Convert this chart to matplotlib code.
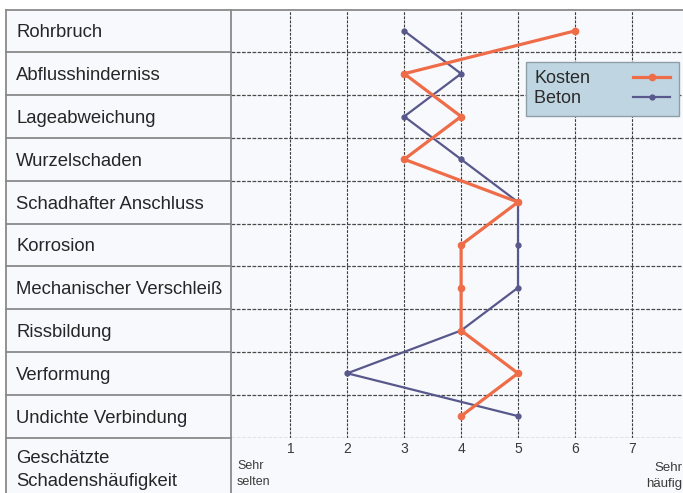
import matplotlib
matplotlib.use("Agg")
import matplotlib.pyplot as plt
from matplotlib.transforms import Affine2D
from matplotlib.lines import Line2D
from matplotlib.patches import Rectangle

plt.rcParams['font.family'] = ['Liberation Sans', 'DejaVu Sans']

# Damage types (rows, top to bottom)
categories = [
    "Rohrbruch",
    "Abflusshinderniss",
    "Lageabweichung",
    "Wurzelschaden",
    "Schadhafter Anschluss",
    "Korrosion",
    "Mechanischer Verschleiß",
    "Rissbildung",
    "Verformung",
    "Undichte Verbindung",
]

# Estimated damage frequency per damage type
kosten = [6, 3, 4, 3, 5, 4, 4, 4, 5, 4]
beton = [3, 4, 3, 4, 5, 5, 5, 4, 2, 5]

series_names = ["Kosten", "Beton"]
x_ticks = [1, 2, 3, 4, 5, 6, 7]
axis_title = "Geschätzte\nSchadenshäufigkeit"
low_label = "Sehr\nselten"
high_label = "Sehr\nhäufig"

W, H = 683, 493
fig = plt.figure(figsize=(W / 100, H / 100), dpi=100, facecolor="white")
pix = Affine2D().scale(1 / W, -1 / H).translate(0, 1) + fig.transFigure

# table geometry (pixels)
left, divider, right = 6, 231, W
top = 9.5
row_h = 42.8
n = len(categories)
bottom_rows = top + row_h * n

bg = "#f8f9fc"
fig.add_artist(Rectangle((left, top), right - left, H - top, transform=pix,
                         facecolor=bg, edgecolor="none", zorder=0))

# data area
ax = fig.add_axes([divider / W, 1 - bottom_rows / H,
                   (right - divider) / W, (bottom_rows - top) / H])
ax.set_facecolor("none")
unit = 56.9
x0 = 233.5
ax.set_xlim((divider - x0) / unit, (right - x0) / unit)
ax.set_ylim(n, 0)
for s in ax.spines.values():
    s.set_visible(False)
ax.set_yticks([])
ax.set_xticks(x_ticks)
ax.set_xticklabels([str(t) for t in x_ticks])
ax.tick_params(axis="x", length=0, pad=3, labelsize=10, labelcolor="#3a3a3a")

for xv in x_ticks:
    ax.axvline(xv, color="#3c3c3c", lw=0.8, ls=(0, (2.5, 1.2)), zorder=1)
for k in range(1, n + 1):
    ax.axhline(k, color="#4a4a4a", lw=0.9, ls=(0, (3, 1.2)), zorder=1)

ys = [i + 0.5 for i in range(n)]
ax.plot(beton, ys, color="#58588c", lw=1.6, marker="o", ms=3.5,
        label=series_names[1] + " \u2009", zorder=3)
ax.plot(kosten, ys, color="#ef6c48", lw=2.3, marker="o", ms=4.5,
        label=series_names[0], zorder=4)

handles, labels = ax.get_legend_handles_labels()
leg = ax.legend(handles[::-1], labels[::-1], loc="upper left",
                bbox_to_anchor=((526 - divider) / (right - divider),
                                1 - (62 - top) / (bottom_rows - top)),
                markerfirst=False, fontsize=13, frameon=True, fancybox=False,
                handlelength=2.1, handletextpad=2.35, labelspacing=0.18,
                borderpad=0.45, borderaxespad=0)
leg.get_frame().set_facecolor("#bfd6e2")
leg.get_frame().set_edgecolor("#8e9ea8")
leg.get_frame().set_linewidth(1.0)
leg.get_frame().set_alpha(1)
for t in leg.get_texts():
    t.set_color("#2a2a2a")

# table lines
line_c = "#8a8a8a"
fig.add_artist(Line2D([left, right], [top, top], transform=pix, color=line_c, lw=1.3))
fig.add_artist(Line2D([left, left], [top, H], transform=pix, color=line_c, lw=1.3))
fig.add_artist(Line2D([divider, divider], [top, H], transform=pix, color=line_c, lw=1.3))
for k in range(1, n + 1):
    y = top + row_h * k
    fig.add_artist(Line2D([left, divider], [y, y], transform=pix, color=line_c, lw=1.3))

# row labels
for i, c in enumerate(categories):
    fig.text(16, top + row_h * (i + 0.5) + 2, c, transform=pix, fontsize=13.3,
             color="#262626", va="center", ha="left")

fig.text(16, 470, axis_title, transform=pix, fontsize=13.3, color="#262626",
         va="center", ha="left", linespacing=1.45)
fig.text(237, 474, low_label, transform=pix, fontsize=9, color="#3a3a3a",
         va="center", ha="left", linespacing=1.5)
fig.text(682, 476, high_label, transform=pix, fontsize=9.5, color="#3a3a3a",
         va="center", ha="right", multialignment="right", linespacing=1.5)

fig.savefig("out.png", dpi=100, facecolor="white")
